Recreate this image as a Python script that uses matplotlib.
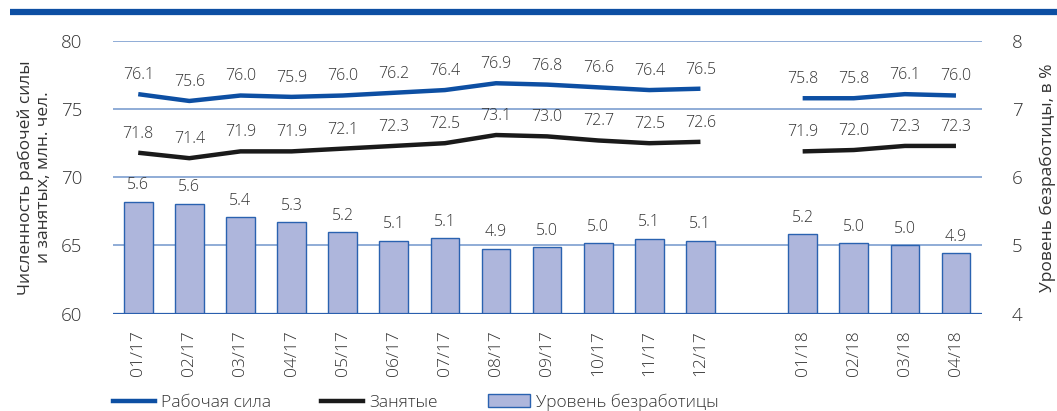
import matplotlib.pyplot as plt
from matplotlib.lines import Line2D
from matplotlib.patches import Patch

plt.rcParams['font.family'] = ['Open Sans', 'DejaVu Sans']
plt.rcParams['font.weight'] = 'light'

# categories (empty slot = gap between years)
months = ['01/17', '02/17', '03/17', '04/17', '05/17', '06/17', '07/17', '08/17',
          '09/17', '10/17', '11/17', '12/17', '', '01/18', '02/18', '03/18', '04/18']
labour = [76.1, 75.6, 76.0, 75.9, 76.0, 76.2, 76.4, 76.9, 76.8, 76.6, 76.4, 76.5,
          None, 75.8, 75.8, 76.1, 76.0]
employed = [71.8, 71.4, 71.9, 71.9, 72.1, 72.3, 72.5, 73.1, 73.0, 72.7, 72.5, 72.6,
            None, 71.9, 72.0, 72.3, 72.3]
unemp = [5.64, 5.61, 5.41, 5.34, 5.19, 5.07, 5.11, 4.95, 4.97, 5.03, 5.10, 5.07,
         None, 5.16, 5.03, 5.00, 4.89]
unemp_lbl = ['5.6', '5.6', '5.4', '5.3', '5.2', '5.1', '5.1', '4.9', '5.0', '5.0', '5.1', '5.1',
             '', '5.2', '5.0', '5.0', '4.9']

BLUE = '#0d4fa3'
GRID = '#7196cc'
BAR = '#aeb6dc'
TXT = '#333333'

fig = plt.figure(figsize=(10.57, 4.11), dpi=100)
ax2 = fig.add_axes([0.1066, 0.2372, 0.822, 0.663])
ax1 = ax2.twinx()
ax1.yaxis.tick_left()
ax1.yaxis.set_label_position('left')
ax2.yaxis.tick_right()
ax2.yaxis.set_label_position('right')
ax1.set_zorder(ax2.get_zorder() + 1)
ax1.patch.set_visible(False)

# top decorative band
fig.add_artist(Line2D([0.009, 1.0], [0.9696, 0.9696], color=BLUE, lw=4.5,
                      transform=fig.transFigure, solid_capstyle='butt'))

x = list(range(len(months)))

# grid and bars (right axis)
for v in [5, 6, 7, 8]:
    ax2.axhline(v, color=GRID, lw=1.1, zorder=0)
for i, (v, l) in enumerate(zip(unemp, unemp_lbl)):
    if v is None:
        continue
    ax2.bar(i, v - 4, bottom=4, width=0.56, color=BAR, edgecolor='#2a62b0', lw=1.0, zorder=2)
    ax2.annotate(l, (i, v), xytext=(0, 6), textcoords='offset points', ha='center',
                 va='bottom', fontsize=11.5, color=TXT)
ax2.axhline(4, color='#2a5fae', lw=1.6, zorder=3)
ax2.set_ylim(4, 8)
ax2.set_yticks([4, 5, 6, 7, 8])
ax2.set_xlim(-0.5, len(months) - 0.5)

# lines (left axis)
def draw_line(vals, color):
    seg_x, seg_y = [], []
    for i, v in enumerate(vals + [None]):
        if v is None:
            if seg_x:
                ax1.plot(seg_x, seg_y, color=color, lw=3.2, solid_capstyle='butt')
            seg_x, seg_y = [], []
        else:
            seg_x.append(i)
            seg_y.append(v)
    for i, v in enumerate(vals):
        if v is not None:
            ax1.annotate(f'{v:.1f}', (i, v), xytext=(0, 8), textcoords='offset points',
                         ha='center', va='bottom', fontsize=11.5, color=TXT)

draw_line(labour, BLUE)
draw_line(employed, '#1a1a1a')
ax1.set_ylim(60, 80)
ax1.set_yticks([60, 65, 70, 75, 80])

for ax in (ax1, ax2):
    for s in ax.spines.values():
        s.set_visible(False)
    ax.tick_params(length=0, labelsize=13.5, labelcolor=TXT)

ax2.set_xticks(x)
ax2.set_xticklabels(months, rotation=90, fontsize=12.5)
ax2.tick_params(axis='x', pad=12)
ax1.tick_params(axis='y', pad=22)
ax2.tick_params(axis='y', pad=22)

ax1.set_ylabel('Численность рабочей силы\nи занятых, млн. чел.', fontsize=12.5,
               color=TXT, labelpad=6)
ax2.set_ylabel('Уровень безработицы, в %', fontsize=12.5, color=TXT, labelpad=12)

handles = [Line2D([], [], color=BLUE, lw=3.2),
           Line2D([], [], color='#1a1a1a', lw=3.2),
           Patch(facecolor=BAR, edgecolor='#2a62b0')]
fig.legend(handles, ['Рабочая сила', 'Занятые', 'Уровень безработицы'], ncol=3,
           loc='center left', bbox_to_anchor=(0.107, 0.022), frameon=False,
           fontsize=12.5, handlelength=2.4, handletextpad=0.35, columnspacing=2.9,
           borderpad=0, borderaxespad=0, labelcolor=TXT)

fig.savefig('out.png', dpi=100)
